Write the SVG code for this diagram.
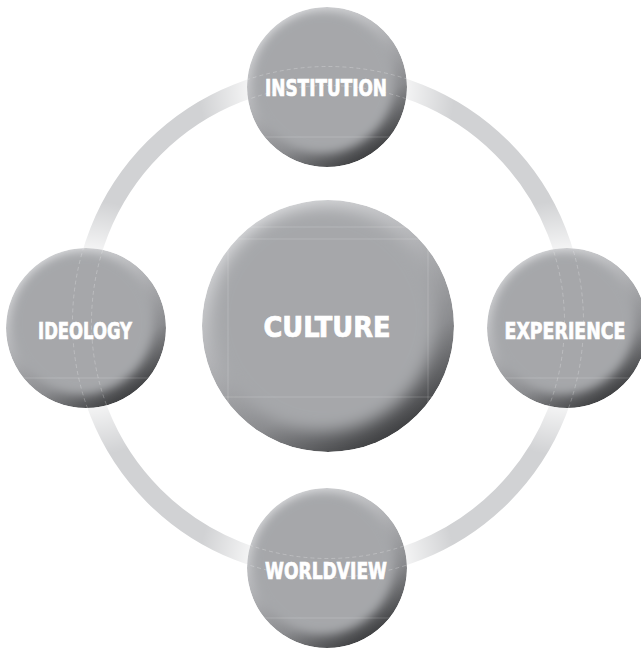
<svg xmlns="http://www.w3.org/2000/svg" width="641" height="649" viewBox="0 0 641 649">
  <style>
    .label { font-family: "DejaVu Sans Condensed", "DejaVu Sans", "Liberation Sans", sans-serif; font-weight: bold; fill: #ffffff; stroke: #ffffff; stroke-width: 0.7; text-anchor: middle; }
    .small { font-size: 23.5px; }
    .big { font-size: 29px; }
    .body { fill: #a6a7aa; }
    .rim { fill: url(#rimGrad); }
    .guide { fill: none; stroke: #ffffff; stroke-opacity: 0.22; stroke-width: 0.8; }
    .guide-dash { fill: none; stroke: #ffffff; stroke-opacity: 0.3; stroke-width: 0.8; stroke-dasharray: 4 3; }
  </style>
  <defs>
    <linearGradient id="rimGrad" x1="0.22" y1="0.02" x2="0.78" y2="0.98">
      <stop offset="0" stop-color="#e2e3e5"/>
      <stop offset="0.4" stop-color="#b3b4b7"/>
      <stop offset="0.7" stop-color="#8a8b8e"/>
      <stop offset="1" stop-color="#323335"/>
    </linearGradient>
    <radialGradient id="haloSmall" cx="0.5" cy="0.5" r="0.5">
      <stop offset="0.62" stop-color="#ffffff" stop-opacity="0.75"/>
      <stop offset="1" stop-color="#ffffff" stop-opacity="0"/>
    </radialGradient>
    <filter id="blurS" x="-20%" y="-20%" width="140%" height="140%">
      <feGaussianBlur stdDeviation="5"/>
    </filter>
    <filter id="blurL" x="-20%" y="-20%" width="140%" height="140%">
      <feGaussianBlur stdDeviation="8"/>
    </filter>
    <clipPath id="clipTop"><circle cx="327" cy="87" r="80"/></clipPath>
    <clipPath id="clipLeft"><circle cx="86" cy="328" r="80"/></clipPath>
    <clipPath id="clipRight"><circle cx="567" cy="328" r="80"/></clipPath>
    <clipPath id="clipBottom"><circle cx="327" cy="568" r="80"/></clipPath>
    <clipPath id="clipCenter"><circle cx="328" cy="326" r="126"/></clipPath>
  </defs>

  <!-- connecting ring -->
  <g id="connectors">
    <circle cx="328" cy="322" r="246" fill="none" stroke="#d1d2d4" stroke-width="19"/>
    <!-- lighter ring ends near each outer node -->
    <circle cx="327" cy="87" r="128" fill="url(#haloSmall)"/>
    <circle cx="86" cy="328" r="128" fill="url(#haloSmall)"/>
    <circle cx="567" cy="328" r="128" fill="url(#haloSmall)"/>
    <circle cx="327" cy="568" r="128" fill="url(#haloSmall)"/>
  </g>

  <g id="node-culture">
    <g clip-path="url(#clipCenter)">
      <circle class="rim" cx="328" cy="326" r="126"/>
      <circle class="body" cx="323" cy="319" r="112" filter="url(#blurL)"/>
      <line class="guide" x1="200" y1="227" x2="456" y2="227"/>
      <line class="guide" x1="200" y1="239" x2="456" y2="239"/>
      <line class="guide" x1="200" y1="397" x2="456" y2="397"/>
      <line class="guide" x1="228" y1="200" x2="228" y2="452"/>
      <line class="guide" x1="428" y1="200" x2="428" y2="452"/>
    </g>
    <text class="label big" x="327" y="337" textLength="127" lengthAdjust="spacingAndGlyphs">CULTURE</text>
  </g>

  <g id="node-institution">
    <g clip-path="url(#clipTop)">
      <circle class="rim" cx="327" cy="87" r="80"/>
      <circle class="body" cx="323" cy="82" r="71" filter="url(#blurS)"/>
      <circle class="guide-dash" cx="328" cy="322" r="255.5"/>
      <circle class="guide-dash" cx="328" cy="322" r="236.5"/>
      <line class="guide" x1="247" y1="137" x2="407" y2="137"/>
    </g>
    <text class="label small" x="326" y="96" textLength="122" lengthAdjust="spacingAndGlyphs">INSTITUTION</text>
  </g>

  <g id="node-ideology">
    <g clip-path="url(#clipLeft)">
      <circle class="rim" cx="86" cy="328" r="80"/>
      <circle class="body" cx="82" cy="323" r="71" filter="url(#blurS)"/>
      <circle class="guide-dash" cx="328" cy="322" r="255.5"/>
      <circle class="guide-dash" cx="328" cy="322" r="236.5"/>
      <line class="guide" x1="6" y1="378" x2="166" y2="378"/>
    </g>
    <text class="label small" x="85" y="339" textLength="94" lengthAdjust="spacingAndGlyphs">IDEOLOGY</text>
  </g>

  <g id="node-experience">
    <g clip-path="url(#clipRight)">
      <circle class="rim" cx="567" cy="328" r="80"/>
      <circle class="body" cx="563" cy="323" r="71" filter="url(#blurS)"/>
      <circle class="guide-dash" cx="328" cy="322" r="255.5"/>
      <circle class="guide-dash" cx="328" cy="322" r="236.5"/>
      <line class="guide" x1="487" y1="378" x2="647" y2="378"/>
    </g>
    <text class="label small" x="565" y="339" textLength="121" lengthAdjust="spacingAndGlyphs">EXPERIENCE</text>
  </g>

  <g id="node-worldview">
    <g clip-path="url(#clipBottom)">
      <circle class="rim" cx="327" cy="568" r="80"/>
      <circle class="body" cx="323" cy="563" r="71" filter="url(#blurS)"/>
      <circle class="guide-dash" cx="328" cy="322" r="255.5"/>
      <circle class="guide-dash" cx="328" cy="322" r="236.5"/>
      <line class="guide" x1="247" y1="618" x2="407" y2="618"/>
    </g>
    <text class="label small" x="326" y="579" textLength="122" lengthAdjust="spacingAndGlyphs">WORLDVIEW</text>
  </g>
</svg>
